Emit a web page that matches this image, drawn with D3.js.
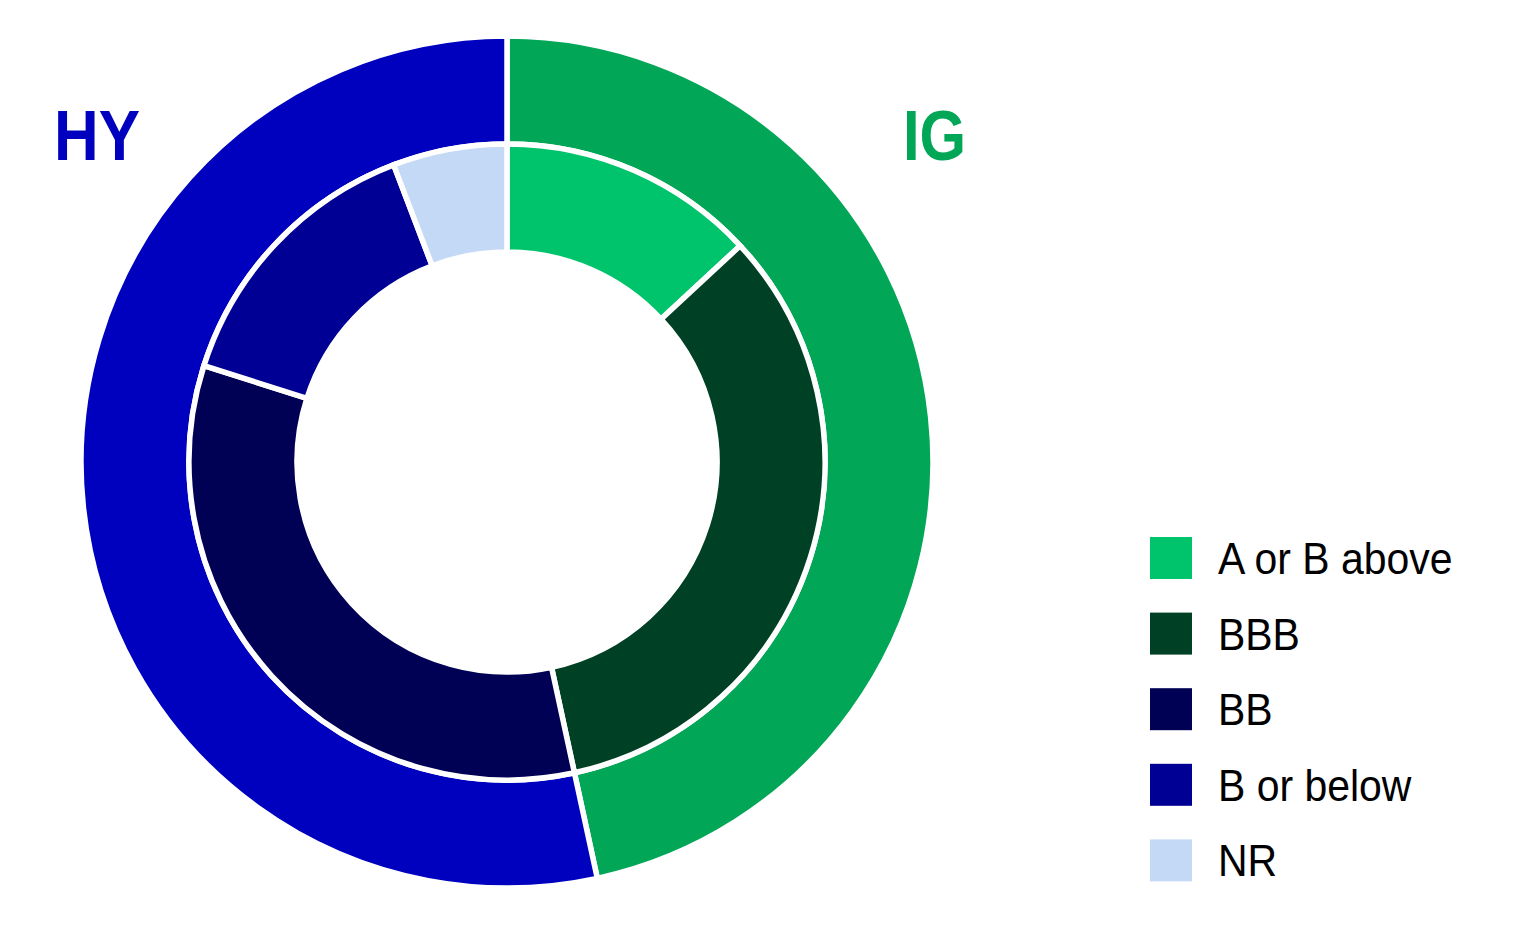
<!DOCTYPE html>
<html>
<head>
<meta charset="utf-8">
<script src="https://cdn.jsdelivr.net/npm/d3@7"></script>
<style>
html,body{margin:0;padding:0;background:#fff;}
svg{display:block;}
</style>
</head>
<body>
<svg id="chart" width="1516" height="945"></svg>
<script>
const outerCategories = ["IG", "HY"];
const outerValues = [46.6, 53.4];
const outerColors = ["#02A657", "#0000BF"];

const innerCategories = ["A or B above", "BBB", "BB", "B or below", "NR"];
const innerValues = [13.1, 33.5, 33.3, 14.3, 5.8];
const innerColors = ["#00C46B", "#004025", "#000055", "#000094", "#C3D9F5"];

const svg = d3.select("#chart");
const cx = 507, cy = 462;
const g = svg.append("g").attr("transform", `translate(${cx},${cy})`);

const pie = d3.pie().sort(null).value(d => d.v).startAngle(0).endAngle(2 * Math.PI);

const outerArc = d3.arc().innerRadius(318).outerRadius(426);
const innerArc = d3.arc().innerRadius(210).outerRadius(318);

g.selectAll("path.outer")
  .data(pie(outerCategories.map((c, i) => ({c, v: outerValues[i]}))))
  .join("path")
  .attr("class", "outer")
  .attr("d", outerArc)
  .attr("fill", (d, i) => outerColors[i])
  .attr("stroke", "#fff")
  .attr("stroke-width", 5.5);

g.selectAll("path.inner")
  .data(pie(innerCategories.map((c, i) => ({c, v: innerValues[i]}))))
  .join("path")
  .attr("class", "inner")
  .attr("d", innerArc)
  .attr("fill", (d, i) => innerColors[i])
  .attr("stroke", "#fff")
  .attr("stroke-width", 5.5);

// Big labels
svg.append("text")
  .attr("transform", "translate(54,160) scale(0.91,1.03)")
  .attr("font-family", "Liberation Sans, Arial, sans-serif")
  .attr("font-weight", "bold").attr("font-size", 68)
  .attr("fill", outerColors[1]).text(outerCategories[1]);
svg.append("text")
  .attr("transform", "translate(903,160) scale(0.88,1.03)")
  .attr("font-family", "Liberation Sans, Arial, sans-serif")
  .attr("font-weight", "bold").attr("font-size", 68)
  .attr("fill", outerColors[0]).text(outerCategories[0]);

// Legend
const legend = svg.append("g");
const rows = legend.selectAll("g")
  .data(innerCategories)
  .join("g")
  .attr("transform", (d, i) => `translate(1150,${537 + i * 75.6})`);
rows.append("rect").attr("width", 42).attr("height", 42)
  .attr("fill", (d, i) => innerColors[i]);
rows.append("text")
  .attr("transform", "translate(68,37) scale(0.91,1)")
  .attr("font-family", "Liberation Sans, Arial, sans-serif")
  .attr("font-size", 45).attr("fill", "#000")
  .text(d => d);
</script>
</body>
</html>
